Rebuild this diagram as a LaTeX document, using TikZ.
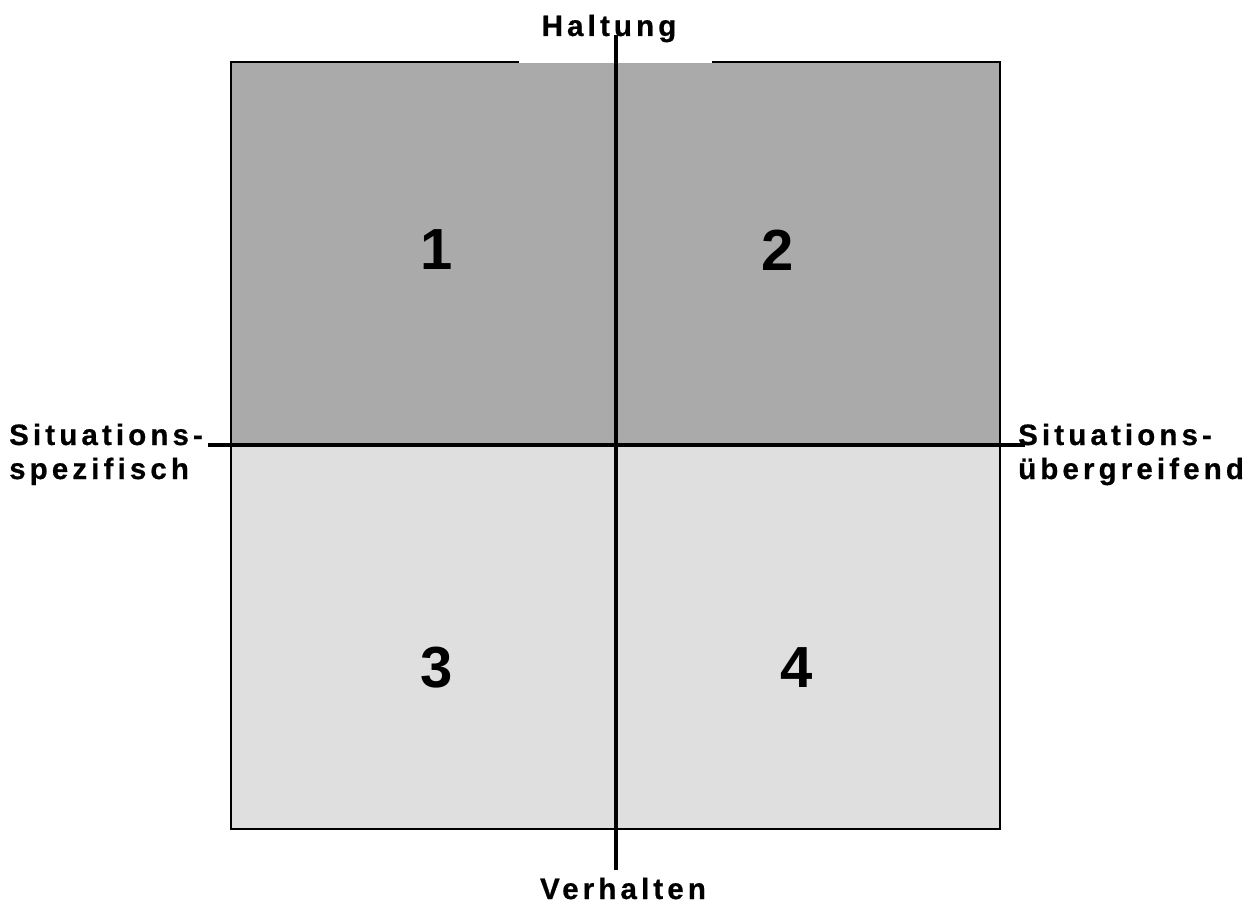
\documentclass[tikz,border=0pt]{standalone}
\usepackage{fontspec}
\setmainfont{Liberation Sans}
\definecolor{darkq}{HTML}{AAAAAA}
\definecolor{lightq}{HTML}{DFDFDF}
\begin{document}
\begin{tikzpicture}[x=1pt,y=-1pt,
  lab/.style={font={\bfseries\addfontfeatures{LetterSpace=14,FakeBold=0.6}\fontsize{29.5}{34}\selectfont}, inner sep=0pt, align=left},
  num/.style={font=\bfseries\fontsize{58}{66}\selectfont, inner sep=0pt},
  axis/.style={line width=3.2pt, black}]
\useasboundingbox (0,0) rectangle (1252,904);
\fill[darkq] (231,62) rectangle (1000,445);
\fill[lightq] (231,445) rectangle (1000,829);
\draw[line width=1.6pt] (231,62) rectangle (1000,829);
\node[fill=white, minimum width=193pt, minimum height=64pt, inner sep=0pt] (haltbg) at (615.5,31.5) {};
\node[lab, anchor=base] (halt) at (609,36) {Haltung};
\node[lab, anchor=base] (verhl) at (623,899) {Verhalten};
\node[lab, anchor=base west] (links) at (9,479) {Situations-\\spezifisch};
\node[lab, anchor=base west] (rechts) at (1018,479) {Situations-\\übergreifend};
\coordinate (vtop) at (616,35);
\coordinate (vbot) at (616,870);
\coordinate (hl) at (208,445);
\coordinate (hr) at (1025,445);
\draw[axis] (vtop) -- (vbot);
\draw[axis] (hl) -- (hr);
\node[num] (n1) at (437,250) {1};
\node[num] (n2) at (778,250) {2};
\node[num] (n3) at (437,668) {3};
\node[num] (n4) at (797,668) {4};
\end{tikzpicture}
\end{document}
